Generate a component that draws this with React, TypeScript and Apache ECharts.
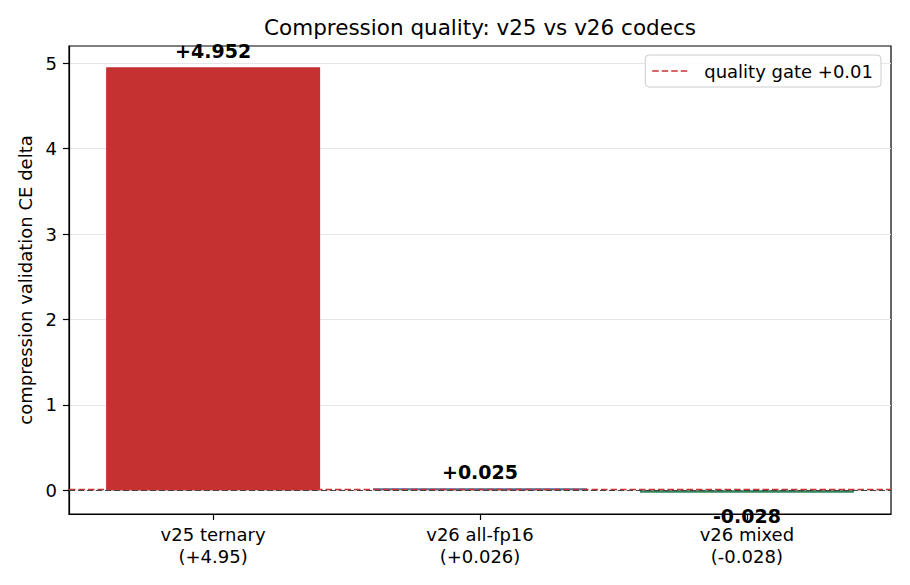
import React, { useEffect, useRef } from "react";
import * as echarts from "echarts";

const categories = ["v25 ternary", "v26 all-fp16", "v26 mixed"];
const tickNotes = ["(+4.95)", "(+0.026)", "(-0.028)"];
const values = [4.952, 0.025, -0.028];
const barLabels = ["+4.952", "+0.025", "-0.028"];
const barColors = ["#c53030", "#4c6e9a", "#2f855a"];
const gateValue = 0.01;
const gateName = "quality gate +0.01";
const yTicks = [0, 1, 2, 3, 4, 5];
const xTicks = [0, 1, 2];
const xRange = [-0.54, 2.54];
const yRange = [-0.277, 5.201];

const FONT = "DejaVu Sans";
const GATE_COLOR = "#cc3333";
const DASH_ICON =
  "path://M0,0h6.5v1.4h-6.5z M9.5,0h6.5v1.4h-6.5z M19,0h6.5v1.4h-6.5z M28.5,0h6.5v1.4h-6.5z";

export default function App() {
  const ref = useRef<HTMLDivElement>(null);
  useEffect(() => {
    if (!ref.current) return;
    const chart = echarts.init(ref.current, null, { renderer: "svg" });
    chart.setOption({
      animation: false,
      textStyle: { fontFamily: FONT, color: "#000" },
      title: {
        text: "Compression quality: v25 vs v26 codecs",
        left: 480,
        textAlign: "center",
        top: 16,
        padding: 0,
        textStyle: { fontFamily: FONT, fontSize: 21.5, fontWeight: "normal", color: "#000" },
      },
      grid: {
        left: 69,
        right: 19,
        top: 46,
        bottom: 71,
        show: true,
        borderColor: "#000",
        borderWidth: 1.2,
        backgroundColor: "transparent",
      },
      legend: {
        data: [{ name: gateName, icon: DASH_ICON, itemStyle: { color: GATE_COLOR } }],
        right: 29,
        top: 55,
        orient: "vertical",
        itemWidth: 35,
        itemHeight: 1.4,
        padding: [6, 8, 6, 7],
        borderColor: "#cccccc",
        borderWidth: 1,
        borderRadius: 4,
        backgroundColor: "rgba(255,255,255,0.85)",
        textStyle: { fontFamily: FONT, fontSize: 18, color: "#000", padding: [0, 0, 0, 12], lineHeight: 20 },
      },
      xAxis: {
        type: "value",
        min: xRange[0],
        max: xRange[1],
        axisLine: { onZero: false, lineStyle: { color: "#000", width: 1.2 } },
        axisTick: { show: true, customValues: xTicks, length: 6, lineStyle: { color: "#000", width: 1.2 } },
        axisLabel: {
          customValues: xTicks,
          formatter: (v: number) => {
            const i = Math.round(v);
            return categories[i] + "\n" + tickNotes[i];
          },
          fontFamily: FONT,
          fontSize: 18,
          lineHeight: 21.5,
          color: "#000",
          margin: 10,
        },
        splitLine: { show: false },
      },
      yAxis: {
        type: "value",
        min: yRange[0],
        max: yRange[1],
        name: "compression validation CE delta",
        nameLocation: "middle",
        nameGap: 33,
        nameTextStyle: { fontFamily: FONT, fontSize: 18, color: "#000" },
        axisLine: { show: true, onZero: false, lineStyle: { color: "#000", width: 1.2 } },
        axisTick: { show: true, customValues: yTicks, length: 6, lineStyle: { color: "#000", width: 1.2 } },
        axisLabel: {
          customValues: yTicks,
          fontFamily: FONT,
          fontSize: 18,
          color: "#000",
          margin: 12,
        },
        splitLine: { show: true, lineStyle: { color: "#e6e6e6", width: 1 } },
      },
      series: [
        {
          type: "bar",
          barWidth: 214,
          data: values.map((v, i) => ({
            value: [i, v],
            itemStyle: { color: barColors[i] },
            label: {
              show: true,
              position: v >= 0 ? "top" : "bottom",
              distance: v >= 0 ? 7 : 14,
              formatter: barLabels[i],
              fontFamily: FONT,
              fontSize: 19,
              fontWeight: "bold",
              color: "#000",
            },
          })),
          markLine: {
            silent: true,
            symbol: "none",
            label: { show: false },
            lineStyle: { color: "#444", type: [6, 3], width: 1.1 },
            data: [{ yAxis: 0 }],
          },
          z: 2,
        },
        {
          type: "line",
          name: gateName,
          symbol: "none",
          data: [
            [xRange[0], gateValue],
            [xRange[1], gateValue],
          ],
          lineStyle: { color: GATE_COLOR, type: [6.5, 3], width: 1.3 },
          itemStyle: { color: GATE_COLOR },
          z: 3,
        },
      ],
    });
    return () => chart.dispose();
  }, []);
  return (
    <div
      ref={ref}
      style={{ position: "fixed", left: 0, top: 0, width: 910, height: 585, background: "#fff" }}
    />
  );
}
